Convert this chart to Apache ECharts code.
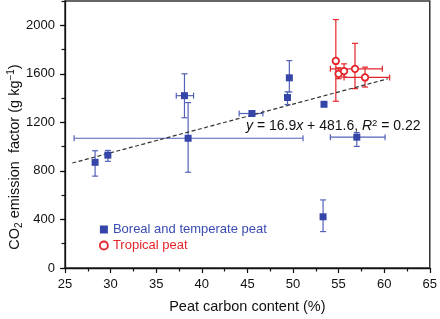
<!DOCTYPE html>
<html>
<head>
<meta charset="utf-8">
<script src="https://cdn.jsdelivr.net/npm/echarts@6/dist/echarts.min.js"></script>
<style>
    html, body { margin: 0; padding: 0; background: #fff; }
    #chart { width: 440px; height: 319px; }
</style>
</head>
<body>
<div id="chart"></div>
<script>
// Boreal and temperate peat: carbon content (%) / CO2 emission factor (g/kg)
const borealX = [28.3, 29.7, 38.5, 38.1, 45.5, 49.6, 49.4, 53.4, 57.0, 53.3]
const borealY = [871, 930, 1069, 1420, 1273, 1567, 1405, 1349, 1078, 422]
// [low, high] error ranges, null = no bar drawn
const borealXErr = [null, null, [26.0, 51.1], [37.2, 39.1], [44.1, 46.7], null, null, null, [54.1, 60.1], null]
const borealYErr = [[757, 966], [879, 969], [789, 1363], [1238, 1600], [1255, 1290], [1451, 1709], [1347, 1451], null, [1002, 1116], [300, 561]]

// Tropical peat
const tropicalX = [54.7, 55.0, 55.6, 56.8, 57.9]
const tropicalY = [1706, 1600, 1622, 1641, 1570]
const tropicalXErr = [null, null, null, [54.1, 59.8], [55.6, 60.6]]
const tropicalYErr = [[1374, 2047], [1560, 1650], [1573, 1682], [1478, 1851], [1491, 1655]]

// dashed fit line end points, as drawn in the figure
const fitLine = [[25.8, 865], [60.4, 1559]]

const xTicks = [25, 65, 5]
const yTicks = [0, 2200, 400]

const BLUE = '#3545a8'
const BLUE_BAR = '#5362b8'
const RED = '#e3252b'
const FONT = 'Liberation Sans, Arial, sans-serif'

function pts(xs, ys) {
    return xs.map(function(x, i) { return [x, ys[i]] })
}
function errData(xs, ys, xe, ye) {
    return xs.map(function(x, i) {
        let xr = xe[i] || [x, x]
        let yr = ye[i] || [ys[i], ys[i]]
        return [x, ys[i], xr[0], xr[1], yr[0], yr[1]]
    })
}
function errorBars(color) {
    return function(params, api) {
        let x = api.value(0)
        let y = api.value(1)
        let c = api.coord([x, y])
        let style = { stroke: color, lineWidth: 1.2 }
        let cap = 3
        let kids = []
        if (api.value(4) !== api.value(5)) {
            let lo = api.coord([x, api.value(4)])
            let hi = api.coord([x, api.value(5)])
            kids.push({ type: 'line', shape: { x1: c[0], y1: lo[1], x2: c[0], y2: hi[1] }, style: style })
            kids.push({ type: 'line', shape: { x1: c[0] - cap, y1: lo[1], x2: c[0] + cap, y2: lo[1] }, style: style })
            kids.push({ type: 'line', shape: { x1: c[0] - cap, y1: hi[1], x2: c[0] + cap, y2: hi[1] }, style: style })
        }
        if (api.value(2) !== api.value(3)) {
            let lo = api.coord([api.value(2), y])
            let hi = api.coord([api.value(3), y])
            kids.push({ type: 'line', shape: { x1: lo[0], y1: c[1], x2: hi[0], y2: c[1] }, style: style })
            kids.push({ type: 'line', shape: { x1: lo[0], y1: c[1] - cap, x2: lo[0], y2: c[1] + cap }, style: style })
            kids.push({ type: 'line', shape: { x1: hi[0], y1: c[1] - cap, x2: hi[0], y2: c[1] + cap }, style: style })
        }
        return { type: 'group', children: kids }
    }
}

let option = {
    animation: false,
    grid: {
        left: 65, right: 8, top: 1, bottom: 48,
        show: true, borderColor: '#333', borderWidth: 1.5
    },
    legend: {
        orient: 'vertical',
        left: 94, top: 218,
        itemWidth: 8, itemHeight: 8, itemGap: 3,
        textStyle: { fontFamily: FONT, fontSize: 13 },
        data: [
            { name: 'Boreal and temperate peat', icon: 'rect', textStyle: { color: '#3a4cb2' } },
            { name: 'Tropical peat', icon: 'circle', itemStyle: { color: '#fff', borderColor: RED, borderWidth: 1.8 }, textStyle: { color: RED } }
        ]
    },
    xAxis: {
        type: 'value',
        min: xTicks[0], max: xTicks[1], interval: xTicks[2],
        name: 'Peat carbon content (%)',
        nameLocation: 'middle', nameGap: 31,
        nameTextStyle: { fontFamily: FONT, fontSize: 14.5, color: '#111' },
        axisLine: { lineStyle: { color: '#111', width: 1.3 } },
        axisTick: { length: 5, lineStyle: { color: '#111', width: 1.2 } },
        minorTick: { show: true, splitNumber: 2, length: 3.5, lineStyle: { color: '#111', width: 1.2 } },
        axisLabel: { fontFamily: FONT, fontSize: 13, color: '#111', margin: 10 },
        splitLine: { show: false }
    },
    yAxis: [{
        type: 'value',
        min: yTicks[0], max: yTicks[1], interval: yTicks[2],
        axisLine: { show: true, lineStyle: { color: '#111', width: 1.3 } },
        axisTick: { show: true, length: 5, lineStyle: { color: '#111', width: 1.2 } },
        axisLabel: {
            fontFamily: FONT, fontSize: 13, color: '#111', margin: 10, showMaxLabel: false,
            formatter: function(v) { return String(v) }
        },
        splitLine: { show: false }
    }, {
        type: 'value',
        position: 'left',
        min: yTicks[0], max: yTicks[1], interval: yTicks[2] / 2,
        axisLine: { show: false },
        axisTick: { show: true, length: 3.5, lineStyle: { color: '#111', width: 1.2 } },
        axisLabel: { show: false },
        splitLine: { show: false }
    }],
    graphic: [{
        type: 'text',
        x: 15, y: 157,
        rotation: Math.PI / 2,
        style: {
            text: 'CO{sub|2} emission  factor (g kg{sup|\u22121})',
            fontFamily: FONT, fontSize: 14.5, fill: '#111',
            lineHeight: 18,
            align: 'center', verticalAlign: 'middle',
            rich: {
                sub: { fontFamily: FONT, fontSize: 10, lineHeight: 10, verticalAlign: 'bottom' },
                sup: { fontFamily: FONT, fontSize: 10, lineHeight: 10, verticalAlign: 'top' }
            }
        }
    }, {
        type: 'text',
        x: 246, y: 126,
        z: 10,
        style: {
            text: '{i|y} = 16.9{i|x} + 481.6, {i|R}{sup|2} = 0.22',
            fontFamily: FONT, fontSize: 14, fill: '#111',
            lineHeight: 16,
            align: 'left', verticalAlign: 'middle',
            rich: {
                i: { fontFamily: FONT, fontSize: 14, fontStyle: 'italic' },
                sup: { fontFamily: FONT, fontSize: 9.5, lineHeight: 10, verticalAlign: 'top' }
            }
        }
    }],
    series: [
        {
            name: 'borealErr', type: 'custom', z: 1,
            renderItem: errorBars(BLUE_BAR),
            encode: { x: 0, y: 1 },
            data: errData(borealX, borealY, borealXErr, borealYErr)
        },
        {
            name: 'tropicalErr', type: 'custom', z: 1,
            renderItem: errorBars(RED),
            encode: { x: 0, y: 1 },
            data: errData(tropicalX, tropicalY, tropicalXErr, tropicalYErr)
        },
        {
            name: 'fit', type: 'line', z: 2,
            data: fitLine, symbol: 'none', silent: true,
            lineStyle: { color: '#333', width: 1.2, type: [4, 2.5] }
        },
        {
            name: 'Boreal and temperate peat', type: 'scatter', z: 3,
            symbol: 'rect', symbolSize: 7,
            itemStyle: { color: BLUE, opacity: 1 },
            data: pts(borealX, borealY)
        },
        {
            name: 'Tropical peat', type: 'scatter', z: 3,
            symbol: 'circle', symbolSize: 6.5,
            itemStyle: { color: '#fff', borderColor: RED, borderWidth: 1.8, opacity: 1 },
            data: pts(tropicalX, tropicalY)
        }
    ]
}

let myChart = echarts.init(document.getElementById('chart'))
myChart.setOption(option)
</script>
</body>
</html>
